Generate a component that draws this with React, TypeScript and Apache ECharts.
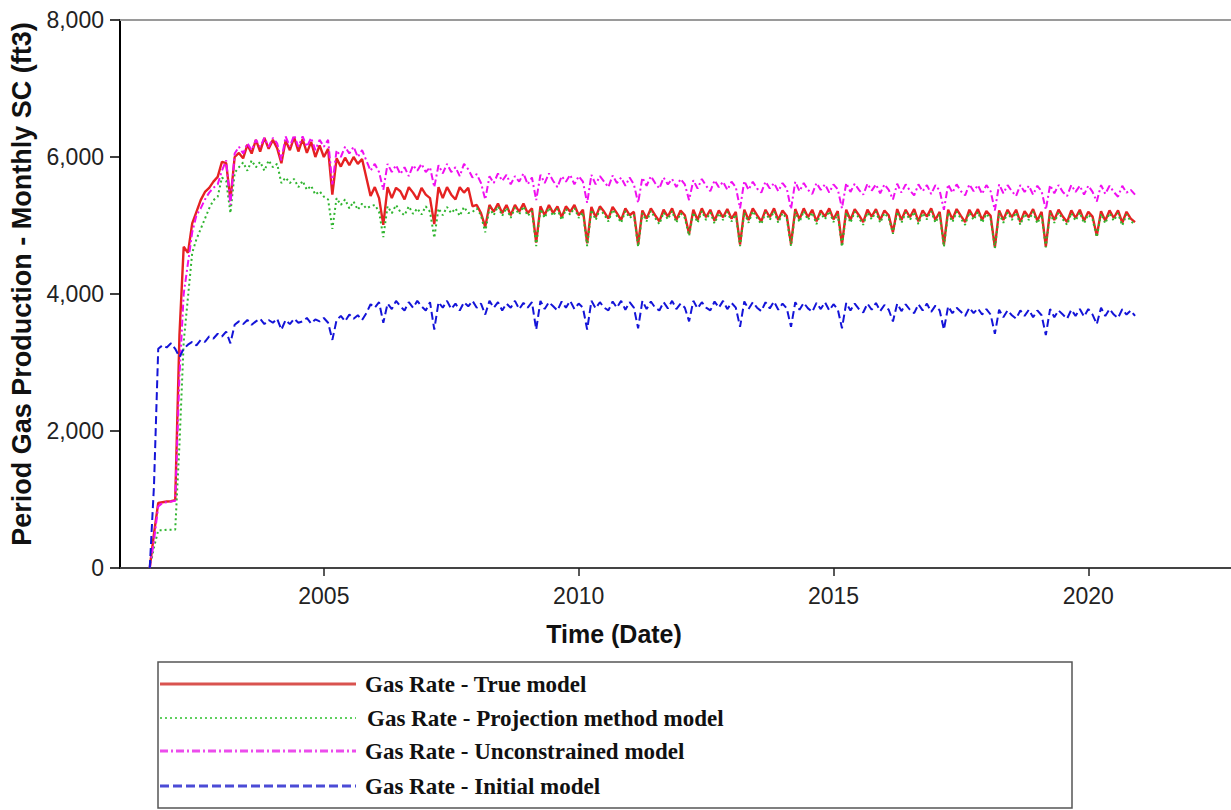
import React, { useEffect, useRef } from "react";
import * as echarts from "echarts";

// Monthly data, first value = Aug 2001, last value = Dec 2020
const START_YEAR = 2001;
const START_MONTH = 8;

const TRUE_MODEL = [
  0, 500, 950, 960, 970,
  975, 990, 3400, 4690, 4600, 5030, 5200, 5370, 5490, 5550, 5640, 5710,
  5930, 5910, 5370, 6000, 6060, 5980, 6180, 6050, 6250, 6080, 6280, 6120,
  6250, 6130, 5910, 6240, 6100, 6290, 6080, 6260, 6060, 6220, 6000, 6170,
  6000, 6120, 5450, 5980, 5860, 5990, 5880, 6000, 5900, 5970, 5700, 5430,
  5560, 5400, 5010, 5560, 5400, 5550, 5500, 5380, 5560, 5480, 5380, 5550,
  5450, 5400, 5020, 5560, 5400, 5560, 5450, 5380, 5560, 5480, 5550, 5280,
  5300, 5180, 4980, 5300, 5200, 5320, 5180, 5300, 5150, 5300, 5200, 5320,
  5180, 5250, 4750, 5280, 5150, 5300, 5180, 5280, 5120, 5280, 5200, 5300,
  5150, 5230, 4740, 5270, 5120, 5280, 5200, 5100, 5270, 5180, 5080, 5250,
  5150, 5200, 4720, 5220, 5100, 5250, 5150, 5060, 5230, 5130, 5250, 5080,
  5220, 5150, 4880, 5230, 5080, 5250, 5120, 5230, 5070, 5220, 5120, 5240,
  5100, 5200, 4720, 5230, 5080, 5250, 5150, 5060, 5230, 5120, 5250, 5080,
  5220, 5140, 4730, 5240, 5090, 5250, 5120, 5230, 5060, 5220, 5130, 5250,
  5090, 5210, 4720, 5230, 5080, 5240, 5150, 5050, 5230, 5130, 5240, 5080,
  5220, 5150, 4900, 5240, 5080, 5230, 5120, 5240, 5060, 5220, 5130, 5250,
  5080, 5200, 4720, 5230, 5090, 5240, 5140, 5050, 5230, 5120, 5240, 5080,
  5210, 5140, 4680, 5220, 5080, 5230, 5120, 5230, 5050, 5210, 5120, 5240,
  5070, 5200, 4690, 5220, 5080, 5230, 5130, 5050, 5220, 5110, 5230, 5070,
  5200, 5130, 4850, 5210, 5070, 5220, 5110, 5220, 5040, 5200, 5100, 5050,
];

const PROJECTION_MODEL = [
  0, 300, 550, 550, 560,
  560, 560, 1800, 3300, 3950, 4600, 4800, 4950, 5100, 5250, 5370, 5420,
  5700, 5650, 5180, 5770, 5850, 5920, 5800, 5950, 5850, 5930, 5800, 5950,
  5850, 5900, 5620, 5700, 5620, 5680, 5560, 5650, 5520, 5580, 5450, 5500,
  5420, 5380, 4950, 5400, 5300, 5380, 5250, 5350, 5230, 5320, 5250, 5280,
  5300, 5200, 4830, 5280, 5180, 5300, 5200, 5150, 5280, 5170, 5250, 5160,
  5280, 5200, 4820, 5250, 5150, 5270, 5180, 5250, 5140, 5270, 5180, 5200,
  5250, 5150, 4900, 5260, 5150, 5280, 5140, 5260, 5110, 5260, 5160, 5280,
  5140, 5210, 4700, 5240, 5110, 5260, 5140, 5240, 5080, 5240, 5160, 5260,
  5110, 5190, 4700, 5230, 5080, 5240, 5160, 5060, 5230, 5140, 5040, 5210,
  5110, 5160, 4690, 5180, 5060, 5210, 5110, 5020, 5190, 5090, 5210, 5040,
  5180, 5110, 4850, 5190, 5040, 5210, 5080, 5190, 5030, 5180, 5080, 5200,
  5060, 5160, 4700, 5190, 5040, 5210, 5110, 5020, 5190, 5080, 5210, 5040,
  5180, 5100, 4700, 5200, 5050, 5210, 5080, 5190, 5020, 5180, 5090, 5210,
  5050, 5170, 4690, 5190, 5040, 5200, 5110, 5010, 5190, 5090, 5200, 5040,
  5180, 5110, 4880, 5200, 5040, 5190, 5080, 5200, 5020, 5180, 5090, 5210,
  5040, 5160, 4690, 5190, 5050, 5200, 5100, 5010, 5190, 5080, 5200, 5040,
  5170, 5100, 4670, 5180, 5040, 5190, 5080, 5190, 5010, 5170, 5080, 5200,
  5030, 5160, 4680, 5180, 5040, 5190, 5090, 5010, 5180, 5070, 5190, 5030,
  5160, 5090, 4830, 5170, 5030, 5180, 5070, 5180, 5000, 5160, 5060, 5020,
];

const UNCONSTRAINED_MODEL = [
  0, 400, 900, 950, 960,
  970, 980, 2800, 4000, 4450, 4900, 5150, 5250, 5380, 5480, 5550, 5600,
  5800, 5950, 5300, 6050, 6150, 6050, 6200, 6100, 6250, 6150, 6280, 6150,
  6280, 6200, 5950, 6300, 6150, 6320, 6150, 6300, 6150, 6280, 6100, 6250,
  6150, 6250, 5600, 6100, 6000, 6150, 6050, 6150, 6000, 6100, 5950, 5800,
  5900, 5780, 5520, 5900, 5780, 5880, 5750, 5850, 5720, 5880, 5800, 5900,
  5780, 5850, 5560, 5880, 5760, 5900, 5780, 5850, 5720, 5900, 5820, 5700,
  5750, 5620, 5380, 5720, 5620, 5760, 5650, 5740, 5600, 5720, 5640, 5760,
  5600, 5700, 5370, 5740, 5620, 5760, 5650, 5560, 5720, 5640, 5740, 5600,
  5720, 5640, 5330, 5740, 5600, 5720, 5640, 5560, 5730, 5620, 5700, 5580,
  5700, 5600, 5330, 5700, 5580, 5720, 5620, 5540, 5700, 5600, 5680, 5560,
  5680, 5600, 5370, 5660, 5540, 5680, 5580, 5500, 5660, 5560, 5640, 5520,
  5640, 5560, 5250, 5650, 5520, 5640, 5540, 5480, 5640, 5540, 5620, 5500,
  5620, 5540, 5240, 5640, 5500, 5620, 5520, 5460, 5620, 5520, 5600, 5480,
  5600, 5530, 5250, 5620, 5490, 5610, 5520, 5450, 5610, 5510, 5600, 5470,
  5600, 5520, 5380, 5610, 5480, 5600, 5510, 5440, 5600, 5500, 5590, 5460,
  5590, 5510, 5230, 5600, 5480, 5600, 5500, 5440, 5600, 5500, 5590, 5460,
  5590, 5500, 5220, 5600, 5470, 5590, 5500, 5430, 5590, 5490, 5580, 5450,
  5580, 5500, 5230, 5590, 5470, 5590, 5490, 5430, 5590, 5490, 5580, 5450,
  5580, 5490, 5350, 5590, 5460, 5580, 5490, 5420, 5580, 5480, 5520, 5450,
];

const INITIAL_MODEL = [
  0, 1200, 3200, 3250, 3220,
  3280, 3200, 3080, 3200, 3260, 3300, 3250, 3330, 3300, 3380, 3350, 3420,
  3380, 3450, 3280, 3550, 3600, 3560, 3620, 3550, 3600, 3640, 3560, 3620,
  3580, 3640, 3480, 3620, 3560, 3640, 3580, 3600, 3650, 3570, 3630, 3600,
  3650, 3580, 3330, 3620, 3680, 3600, 3700, 3640, 3690, 3620, 3720, 3850,
  3800, 3880, 3580, 3860, 3780, 3900, 3820, 3760, 3880, 3800, 3900, 3820,
  3760, 3880, 3480, 3880, 3800, 3900, 3780, 3860, 3760, 3880, 3820, 3900,
  3800, 3860, 3700, 3900, 3800, 3880, 3760, 3860, 3800, 3900, 3780, 3870,
  3800, 3880, 3480, 3900, 3780, 3880, 3820, 3760, 3890, 3800, 3900, 3780,
  3860, 3800, 3480, 3900, 3790, 3880, 3800, 3760, 3890, 3800, 3900, 3770,
  3880, 3800, 3500, 3900, 3780, 3890, 3800, 3760, 3880, 3790, 3900, 3780,
  3860, 3800, 3600, 3900, 3790, 3880, 3800, 3760, 3890, 3800, 3900, 3780,
  3870, 3800, 3520, 3890, 3780, 3880, 3800, 3750, 3880, 3790, 3890, 3770,
  3860, 3790, 3520, 3880, 3770, 3870, 3790, 3740, 3870, 3780, 3880, 3760,
  3850, 3780, 3500, 3870, 3760, 3860, 3780, 3730, 3860, 3770, 3870, 3750,
  3840, 3770, 3600, 3860, 3750, 3850, 3770, 3720, 3850, 3760, 3860, 3740,
  3830, 3760, 3480, 3820, 3720, 3800, 3740, 3680, 3800, 3720, 3790, 3700,
  3780, 3700, 3420, 3770, 3660, 3760, 3690, 3640, 3760, 3680, 3770, 3660,
  3760, 3690, 3400, 3780, 3660, 3760, 3700, 3640, 3770, 3680, 3780, 3670,
  3780, 3700, 3560, 3800, 3680, 3780, 3700, 3650, 3780, 3700, 3760, 3680,
];

const X_TICKS = [2005, 2010, 2015, 2020];
const Y_TICKS = [0, 2000, 4000, 6000, 8000];
const X_MIN = 2001;
const X_MAX = 2022.8;

const X_TITLE = "Time (Date)";
const Y_TITLE = "Period Gas Production - Monthly SC (ft3)";

const SERIES_NAMES = [
  "Gas Rate - True model",
  "Gas Rate - Projection method model",
  "Gas Rate - Unconstrained model",
  "Gas Rate - Initial model",
];

function toPoints(values: number[]) {
  return values.map((v, i) => {
    const m = START_MONTH - 1 + i;
    const year = START_YEAR + Math.floor(m / 12);
    const month = m % 12;
    return [year + month / 12, v];
  });
}

const SANS = "'Liberation Sans', Arial, sans-serif";
const SERIF = "'Liberation Serif', 'Times New Roman', serif";

export default function App() {
  const ref = useRef<HTMLDivElement>(null);

  useEffect(() => {
    if (!ref.current) return;
    const chart = echarts.init(ref.current, null, { renderer: "svg" });

    const legendRows = [
      { y: 684, stroke: "#d9534f", width: 3, dash: null as any, textX: 365 },
      { y: 718, stroke: "#5fcf5f", width: 2, dash: [2, 3], textX: 367 },
      { y: 751, stroke: "#ec4cec", width: 3, dash: [8, 3, 2, 3], textX: 365 },
      { y: 786, stroke: "#4b4bd6", width: 3, dash: [9, 4], textX: 365 },
    ];

    const graphic: any[] = [
      {
        type: "text",
        x: 22,
        y: 284,
        rotation: Math.PI / 2,
        style: {
          text: Y_TITLE,
          fontFamily: SANS,
          fontWeight: "bold",
          fontSize: 27,
          fill: "#111",
          align: "center",
          verticalAlign: "middle",
        },
      },
      {
        type: "text",
        x: 614,
        y: 634,
        style: {
          text: X_TITLE,
          fontFamily: SANS,
          fontWeight: "bold",
          fontSize: 25,
          fill: "#111",
          align: "center",
          verticalAlign: "middle",
        },
      },
      {
        type: "rect",
        shape: { x: 158, y: 662, width: 914, height: 146 },
        style: { fill: "#fff", stroke: "#555", lineWidth: 1.5 },
        z: 10,
      },
    ];
    legendRows.forEach((r, i) => {
      graphic.push({
        type: "line",
        shape: { x1: 160, y1: r.y, x2: 356, y2: r.y },
        style: { stroke: r.stroke, lineWidth: r.width, lineDash: r.dash || undefined },
        z: 11,
      });
      graphic.push({
        type: "text",
        x: r.textX,
        y: r.y,
        style: {
          text: SERIES_NAMES[i],
          fontFamily: SERIF,
          fontWeight: "bold",
          fontSize: 23,
          fill: "#111",
          verticalAlign: "middle",
        },
        z: 11,
      });
    });

    chart.setOption({
      animation: false,
      backgroundColor: "#fff",
      grid: { left: 120, right: 0, top: 20, bottom: 242, containLabel: false },
      xAxis: [
        {
          type: "value",
          min: X_MIN,
          max: X_MAX,
          position: "bottom",
          axisLine: { show: true, onZero: false, lineStyle: { color: "#444", width: 2 } },
          axisTick: {
            show: true,
            customValues: X_TICKS,
            length: 8,
            lineStyle: { color: "#222", width: 1.5 },
          },
          axisLabel: {
            customValues: X_TICKS,
            margin: 16,
            fontFamily: SANS,
            fontSize: 23,
            color: "#222",
            formatter: (v: number) => String(Math.round(v)),
          },
          splitLine: { show: false },
        },
        {
          type: "value",
          min: X_MIN,
          max: X_MAX,
          position: "top",
          axisLine: { show: true, onZero: false, lineStyle: { color: "#9a9a9a", width: 2 } },
          axisTick: { show: false },
          axisLabel: { show: false },
          splitLine: { show: false },
        },
      ],
      yAxis: {
        type: "value",
        min: 0,
        max: 8000,
        interval: 2000,
        axisLine: { show: true, lineStyle: { color: "#000", width: 2 } },
        axisTick: { show: true, length: 10, lineStyle: { color: "#000", width: 1.5 } },
        axisLabel: {
          margin: 16,
          fontFamily: SANS,
          fontSize: 23,
          color: "#222",
          formatter: (v: number) => (Y_TICKS.includes(v) ? v.toLocaleString("en-US") : ""),
        },
        splitLine: { show: false },
      },
      series: [
        {
          name: SERIES_NAMES[0],
          type: "line",
          xAxisIndex: 0,
          showSymbol: false,
          symbol: "none",
          data: toPoints(TRUE_MODEL),
          lineStyle: { color: "#e52222", width: 2.4, type: "solid" },
          z: 2,
        },
        {
          name: SERIES_NAMES[1],
          type: "line",
          xAxisIndex: 0,
          showSymbol: false,
          symbol: "none",
          data: toPoints(PROJECTION_MODEL),
          lineStyle: { color: "#2fb52f", width: 2, type: [2, 3] },
          z: 3,
        },
        {
          name: SERIES_NAMES[2],
          type: "line",
          xAxisIndex: 0,
          showSymbol: false,
          symbol: "none",
          data: toPoints(UNCONSTRAINED_MODEL),
          lineStyle: { color: "#f010f0", width: 2, type: [7, 3, 2, 3] },
          z: 4,
        },
        {
          name: SERIES_NAMES[3],
          type: "line",
          xAxisIndex: 0,
          showSymbol: false,
          symbol: "none",
          data: toPoints(INITIAL_MODEL),
          lineStyle: { color: "#1414d8", width: 2, type: [8, 4] },
          z: 5,
        },
      ],
      graphic,
    });

    return () => chart.dispose();
  }, []);

  return (
    <div
      ref={ref}
      style={{ position: "fixed", left: 0, top: 0, width: 1231, height: 810, background: "#fff" }}
    />
  );
}
